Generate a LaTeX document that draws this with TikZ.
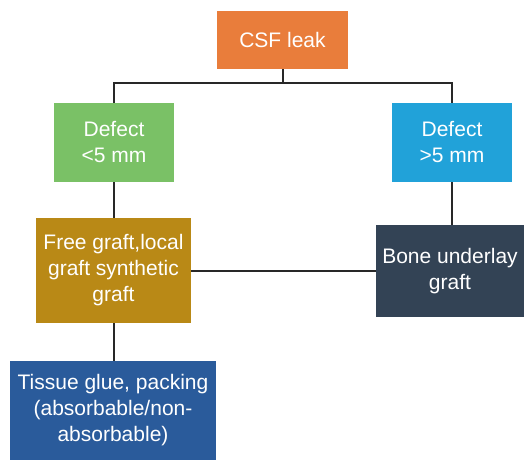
\documentclass[tikz,border=0pt]{standalone}
\usepackage{fontspec}
\setmainfont{Liberation Sans}
\definecolor{corange}{RGB}{233,125,59}
\definecolor{cgreen}{RGB}{122,193,102}
\definecolor{clblue}{RGB}{33,162,217}
\definecolor{cgold}{RGB}{185,137,22}
\definecolor{cslate}{RGB}{51,67,85}
\definecolor{cblue}{RGB}{42,91,155}
\definecolor{cline}{RGB}{40,40,40}
\begin{document}
\begin{tikzpicture}[x=1pt,y=-1pt,
  box/.style={rectangle, inner sep=0pt, text=white, align=center,
    font=\fontsize{21}{26}\selectfont},
  conn/.style={draw=cline, line width=2pt}]
\useasboundingbox[fill=white] (0,0) rectangle (524,460);
\node[box, fill=corange, minimum width=131pt, minimum height=58pt] (csf) at (282.5,40) {CSF leak};
\node[box, fill=cgreen, minimum width=120pt, minimum height=79pt] (dl) at (114,142.5) {Defect\\<5 mm};
\node[box, fill=clblue, minimum width=120pt, minimum height=79pt] (dr) at (452,142.5) {Defect\\>5 mm};
\node[box, fill=cgold, minimum width=155pt, minimum height=105pt] (free) at (113.5,270.5) {Free graft,local\\graft synthetic\\graft};
\node[box, fill=cslate, minimum width=148pt, minimum height=92pt] (bone) at (450,271) {Bone underlay\\graft};
\node[box, fill=cblue, minimum width=206pt, minimum height=99pt] (tissue) at (113,410.5) {Tissue glue, packing\\(absorbable/non-\\absorbable)};
\coordinate (bar) at (282.5,83);
\draw[conn] (csf.south) -- (bar);
\draw[conn] (dl.north) |- (bar) -| (dr.north);
\draw[conn] (dl.south) -- (dl.south |- free.north);
\draw[conn] (dr.south) -- (dr.south |- bone.north);
\draw[conn] (free.east) -- (free.east -| bone.west);
\draw[conn] (free.south) -- (free.south |- tissue.north);
\end{tikzpicture}
\end{document}
